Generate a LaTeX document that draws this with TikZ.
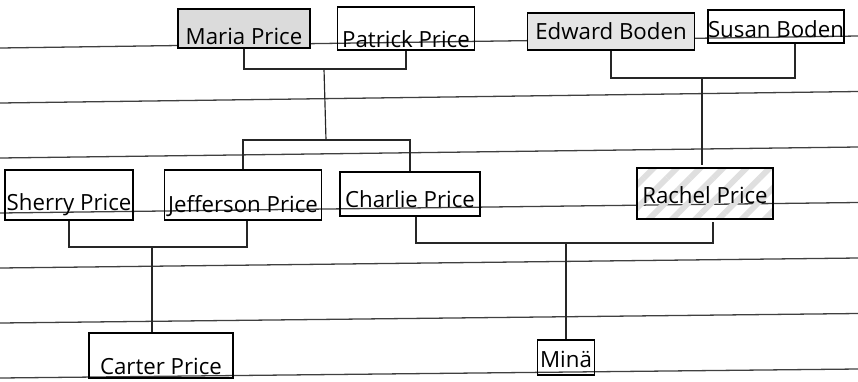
\documentclass[tikz,border=0pt]{standalone}
\usepackage{fontspec}
\setmainfont{Open Sans}
\usetikzlibrary{calc,patterns.meta}

\begin{document}
\begin{tikzpicture}[
    x=0.03cm,
    y=-0.03cm,
    every node/.style={font=\fontsize{19}{22}\selectfont},
    rule/.style={line width=1.1pt,black!75},
    link/.style={line width=1pt,black!85},
    person/.style n args={3}{
        draw,
        line width=1.1pt,
        anchor=base,
        inner sep=0pt,
        minimum width=#1*0.03cm,
        text height=#2*0.03cm,
        text depth=#3*0.03cm
    }
]

\useasboundingbox (0,0) rectangle (858,381);

% ---------------------------------------------------------
% Ruled paper
% ---------------------------------------------------------

\foreach \k in {0,...,6}{
    \draw[rule]
        (0,{48+55*\k}) -- (858,{36+55.5*\k});
}

% ---------------------------------------------------------
% Grandparents
% ---------------------------------------------------------

\node[person={132}{35}{4},fill=gray!28]
    (maria) at (244,44) {Maria Price};

\node[person={137}{40}{3}]
    (patrick) at (406,47) {Patrick Price};

\node[person={167}{26}{11},fill=gray!20]
    (edward) at (611,39) {Edward Boden};

\node[person={133}{27}{6}]
    (susan) at (776,37) {Susan Boden};

% ---------------------------------------------------------
% Parents
% ---------------------------------------------------------

\node[person={128}{40}{10}]
    (sherry) at (69,210) {Sherry Price};

\node[person={157}{42}{8}]
    (jefferson) at (243,212) {Jefferson Price};

\node[person={140}{35}{9}]
    (charlie) at (410,207) {Charlie Price};

\node[
    person={136}{35}{16},
    fill=white,
    pattern={Lines[angle=45,distance=14pt,line width=5pt]},
    pattern color=gray!25
] (rachel) at (705,203) {Rachel Price};

% ---------------------------------------------------------
% Children
% ---------------------------------------------------------

\node[person={144}{41}{4}]
    (carter) at (161,374) {Carter Price};

\node[person={57}{27}{8}]
    (minae) at (566,367) {Minä};

% ---------------------------------------------------------
% Connectors
% ---------------------------------------------------------

\coordinate (mp) at (324,69);
\coordinate (kids) at (326,140);
\coordinate (eb) at (702,78);
\coordinate (sj) at (152,247);
\coordinate (cr) at (566,243);

% Price grandparents
\draw[link] (maria.south) |- (mp) -| (patrick.south);
\draw[link] (mp) -- (kids);
\draw[link] (jefferson.north) |- (kids) -| (charlie.north);

% Boden grandparents
\draw[link] (edward.south) |- (eb) -| ($(susan.south)+(19,0)$);
\draw[link] (eb) -- (eb |- rachel.north);

% Sherry and Jefferson
\draw[link] (sherry.south) |- (sj) -| ($(jefferson.south)+(4,0)$);
\draw[link] (sj) -- (sj |- carter.north);

% Charlie and Rachel
\draw[link] ($(charlie.south)+(6,0)$) |- (cr) -| ($(rachel.south)+(8,0)$);
\draw[link] (cr) -- (minae.north);

\end{tikzpicture}
\end{document}
